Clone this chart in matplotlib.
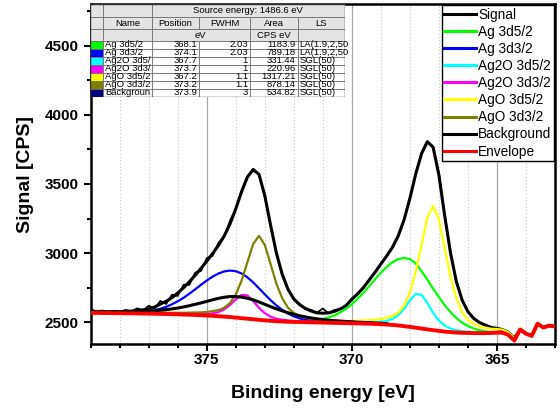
import numpy as np
import matplotlib.pyplot as plt
from matplotlib.patches import Rectangle
from matplotlib.ticker import MultipleLocator

plt.rcParams['font.family'] = ['Liberation Sans', 'DejaVu Sans']

# binding energy grid, eV (0.2 eV step, 379 -> 363)
energy = np.round(np.arange(379.0, 362.99, -0.2), 1)

# measured spectrum, CPS
signal = [2598, 2576, 2586, 2572, 2584, 2575, 2590, 2578, 2602, 2586,
          2620, 2600, 2655, 2632, 2700, 2690, 2772, 2770, 2860, 2870,
          2965, 2980, 3075, 3120, 3235, 3320, 3455, 3555, 3595, 3570,
          3405, 3200, 2995, 2840, 2735, 2665, 2635, 2595, 2590, 2570,
          2600, 2565, 2590, 2595, 2625, 2660, 2712, 2745, 2810, 2858,
          2925, 2975, 3045, 3120, 3240, 3395, 3575, 3725, 3800, 3770,
          3575, 3270, 3010, 2790, 2665, 2575, 2530, 2498, 2480, 2468,
          2452, 2442, 2410, 2365, 2452, 2418, 2400, 2494, 2460, 2478,
          2470]

# red curve (Shirley-type base line), CPS
envelope = [2568, 2568, 2567, 2567, 2566, 2566, 2565, 2565, 2564, 2563,
            2563, 2562, 2561, 2560, 2559, 2558, 2556, 2555, 2553, 2551,
            2549, 2547, 2544, 2541, 2538, 2534, 2530, 2526, 2522, 2518,
            2514, 2511, 2508, 2506, 2504, 2503, 2502, 2501, 2500, 2499,
            2498, 2497, 2496, 2495, 2494, 2493, 2492, 2491, 2490, 2488,
            2486, 2484, 2481, 2477, 2472, 2467, 2461, 2455, 2449, 2443,
            2438, 2433, 2429, 2426, 2424, 2423, 2422, 2422, 2422, 2423,
            2425, 2425, 2408, 2368, 2448, 2418, 2402, 2490, 2462, 2476,
            2470]

# fitted components: height above the base line (CPS), starting energy of each
ag_3d52_start, ag_3d52 = 371.8, [
    4, 6, 10, 16, 25, 38, 54, 76, 104, 138,
    178, 223, 272, 323, 372, 416, 453, 480, 493, 490,
    465, 415, 360, 300, 245, 190, 145, 105, 74, 50,
    33, 21, 13, 8, 5]
ag_3d32_start, ag_3d32 = 377.8, [
    3, 4, 7, 11, 17, 26, 37, 52, 71, 94,
    121, 152, 185, 220, 253, 283, 308, 327, 336, 335,
    323, 299, 266, 228, 188, 149, 114, 84, 59, 40,
    26, 17, 10, 6, 3]
ag2o_3d52_start, ag2o_3d52 = 369.8, [
    7, 8, 10, 13, 17, 26, 43, 75, 126, 191,
    244, 244, 191, 126, 75, 43, 26, 17, 13, 10,
    8, 7, 6]
ag2o_3d32_start, ag2o_3d32 = 376.0, [
    4, 5, 6, 7, 9, 12, 18, 30, 52, 87,
    132, 168, 168, 132, 87, 52, 30, 18, 12, 9,
    7, 6, 5, 4]
ago_3d52_start, ago_3d52 = 370.0, [
    17, 19, 22, 26, 31, 39, 48, 65, 94, 150,
    248, 401, 604, 806, 897, 806, 604, 401, 248, 150,
    94, 65, 48, 39, 31, 26, 22, 19, 17]
ago_3d32_start, ago_3d32 = 376.6, [
    8, 9, 10, 11, 13, 15, 18, 21, 26, 33,
    44, 64, 101, 168, 271, 409, 545, 607, 545, 409,
    271, 168, 101, 64, 44, 33, 26, 21, 18, 15,
    13, 11, 10, 9]
bkg_start, bkg = 379.0, [
    6, 7, 7, 8, 8, 9, 11, 12, 14, 16,
    18, 22, 26, 31, 38, 45, 55, 65, 77, 89,
    102, 116, 129, 140, 148, 152, 152, 148, 140, 129,
    116, 102, 89, 77, 65, 55, 45, 38, 31, 26,
    22, 18, 16, 14, 12, 11, 9, 8, 8, 7,
    7, 6]

# fit table
tbl_names = ['Ag 3d5/2', 'Ag 3d3/2', 'Ag2O 3d5/', 'Ag2O 3d3/', 'AgO 3d5/2', 'AgO 3d3/2', 'Backgroun']
tbl_pos = ['368.1', '374.1', '367.7', '373.7', '367.2', '373.2', '373.9']
tbl_fwhm = ['2.03', '2.03', '1', '1', '1.1', '1.1', '3']
tbl_area = ['1183.9', '789.18', '331.44', '220.96', '1317.21', '878.14', '534.82']
tbl_ls = ['LA(1.9,2,50', 'LA(1.9,2,50', 'SGL(50)', 'SGL(50)', 'SGL(50)', 'SGL(50)', 'SGL(50)']
tbl_colors = ['#00ff00', '#0000ff', '#00ffff', '#ff00ff', '#ffff00', '#808000', '#000080']

envelope = np.array(envelope, dtype=float)


def place(start, vals):
    i = int(round((energy[0] - start) / 0.2))
    full = np.zeros(len(energy))
    full[i:i + len(vals)] = vals
    return full, slice(i, i + len(vals))


components = [
    (ag_3d52_start, ag_3d52, '#00ff00', 'Ag 3d5/2'),
    (ag_3d32_start, ag_3d32, '#0000ff', 'Ag 3d3/2'),
    (ag2o_3d52_start, ag2o_3d52, '#00ffff', 'Ag2O 3d5/2'),
    (ag2o_3d32_start, ag2o_3d32, '#ff00ff', 'Ag2O 3d3/2'),
    (ago_3d52_start, ago_3d52, '#ffff00', 'AgO 3d5/2'),
    (ago_3d32_start, ago_3d32, '#808000', 'AgO 3d3/2'),
]

fit = envelope.copy()
fig = plt.figure(figsize=(5.6, 4.12), dpi=100)
ax = fig.add_axes([0.162, 0.165, 0.829, 0.825])

ax.plot(energy, signal, color='black', lw=1.2, label='Signal', zorder=3)
for start, vals, col, name in components:
    full, sl = place(start, vals)
    fit += full
    ax.plot(energy[sl], envelope[sl] + full[sl], color=col, lw=1.6, label=name, zorder=4)
bfull, bsl = place(bkg_start, bkg)
fit += bfull
ax.plot(energy[bsl], envelope[bsl] + bfull[bsl], color='black', lw=2.2, label='Background', zorder=5)
ax.plot(energy, fit, color='black', lw=2.2, zorder=3.5)
ax.plot(energy, envelope, color='red', lw=2.8, label='Envelope', zorder=6)

ax.set_xlim(379, 363)
ax.set_ylim(2343, 4800)
ax.xaxis.set_major_locator(MultipleLocator(5))
ax.xaxis.set_minor_locator(MultipleLocator(1))
ax.yaxis.set_major_locator(MultipleLocator(500))
ax.yaxis.set_minor_locator(MultipleLocator(250))
ax.grid(True, which='major', axis='x', color='#a8a8a8', lw=0.9)
ax.grid(True, which='minor', axis='x', color='#c8c8c8', lw=0.8, ls=(0, (1, 2)))
ax.set_axisbelow(True)
ax.tick_params(which='both', direction='out', width=1.5, labelsize=11)
ax.tick_params(which='major', length=5)
ax.tick_params(which='minor', length=3)
ax.tick_params(axis='x', which='major', pad=1.5)
for lab in ax.get_xticklabels() + ax.get_yticklabels():
    lab.set_fontweight('bold')
for sp in ax.spines.values():
    sp.set_linewidth(1.8)

ax.set_xlabel('Binding energy [eV]', fontsize=14, fontweight='bold', labelpad=13)
ax.set_ylabel('Signal [CPS]', fontsize=14, fontweight='bold', labelpad=8)

leg = ax.legend(loc='upper right', fontsize=9.8, frameon=True, fancybox=False,
                borderaxespad=0.1, borderpad=0.15, labelspacing=0.23,
                handlelength=2.35, handletextpad=0.2, framealpha=1)
leg.get_frame().set_edgecolor('black')
leg.get_frame().set_linewidth(1.0)
for h in leg.get_lines():
    h.set_linewidth(2.2)
leg.set_zorder(20)

# fit table drawn in its own inset, local units = pixels
tax = fig.add_axes([90 / 560, 1 - 97 / 412, 255 / 560, 93 / 412])
tax.set_xlim(0, 255)
tax.set_ylim(93, 0)
tax.axis('off')
tax.set_zorder(15)
cols = [0, 13.3, 61.7, 109, 160, 207.7, 255]
rows = [0, 12.7, 25.3, 36.7] + [36.7 + 8 * k for k in range(1, 8)]
gray = '#e4e4e4'
line = '#707070'
fs = 6.8


def cell(x0, x1, y0, y1, fc):
    tax.add_patch(Rectangle((x0, y0), x1 - x0, y1 - y0, facecolor=fc,
                            edgecolor=line, lw=0.6))


# header rows
cell(cols[0], cols[1], rows[0], rows[1], gray)
cell(cols[1], cols[2], rows[0], rows[1], gray)
cell(cols[2], cols[6], rows[0], rows[1], gray)
tax.text((cols[2] + cols[6]) / 2, (rows[0] + rows[1]) / 2, 'Source energy: 1486.6 eV',
         ha='center', va='center', fontsize=fs)
heads = ['Name', 'Position', 'FWHM', 'Area', 'LS']
cell(cols[0], cols[1], rows[1], rows[2], gray)
for k, h in enumerate(heads):
    cell(cols[k + 1], cols[k + 2], rows[1], rows[2], gray)
    tax.text((cols[k + 1] + cols[k + 2]) / 2, (rows[1] + rows[2]) / 2, h,
             ha='center', va='center', fontsize=fs)
cell(cols[0], cols[1], rows[2], rows[3], gray)
cell(cols[1], cols[2], rows[2], rows[3], gray)
cell(cols[2], cols[4], rows[2], rows[3], gray)
cell(cols[4], cols[5], rows[2], rows[3], gray)
cell(cols[5], cols[6], rows[2], rows[3], gray)
tax.text((cols[2] + cols[4]) / 2, (rows[2] + rows[3]) / 2, 'eV', ha='center', va='center', fontsize=fs)
tax.text((cols[4] + cols[5]) / 2, (rows[2] + rows[3]) / 2, 'CPS eV', ha='center', va='center', fontsize=fs)

for r in range(len(tbl_names)):
    y0, y1 = rows[3 + r], rows[4 + r]
    ym = (y0 + y1) / 2
    cell(cols[0], cols[1], y0, y1, tbl_colors[r])
    for k in range(1, 6):
        cell(cols[k], cols[k + 1], y0, y1, 'white')
    tax.text(cols[1] + 2, ym, tbl_names[r], ha='left', va='center', fontsize=fs)
    tax.text(cols[3] - 2, ym, tbl_pos[r], ha='right', va='center', fontsize=fs)
    tax.text(cols[4] - 2, ym, tbl_fwhm[r], ha='right', va='center', fontsize=fs)
    tax.text(cols[5] - 2, ym, tbl_area[r], ha='right', va='center', fontsize=fs)
    tax.text(cols[5] + 1.5, ym, tbl_ls[r], ha='left', va='center', fontsize=fs)
tax.add_patch(Rectangle((0, 0), 255, rows[-1], facecolor='none', edgecolor='#303030', lw=1.0))

fig.savefig('out.png', dpi=100)
